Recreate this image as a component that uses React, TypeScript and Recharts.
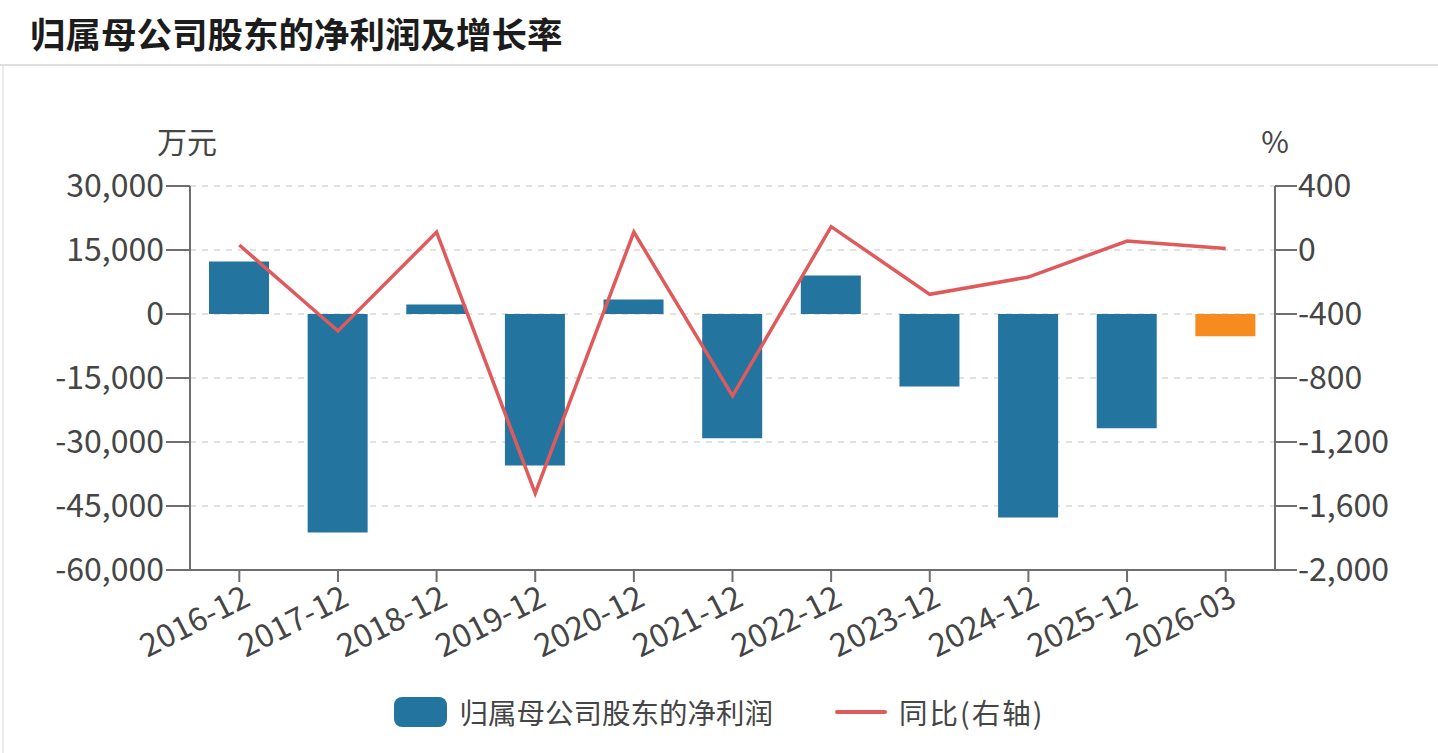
import {
  Bar,
  CartesianGrid,
  Cell,
  ComposedChart,
  Line,
  XAxis,
  YAxis,
} from 'recharts';

const periods = [
  '2016-12',
  '2017-12',
  '2018-12',
  '2019-12',
  '2020-12',
  '2021-12',
  '2022-12',
  '2023-12',
  '2024-12',
  '2025-12',
  '2026-03',
];

// 归属母公司股东的净利润 (万元)
const netProfit = [12300, -51200, 2200, -35500, 3400, -29100, 9000, -17000, -47700, -26800, -5200];

// 同比 (%)
const yoyGrowth = [31, -506, 112, -1521, 112, -912, 146, -277, -169, 56, 10];

const leftTicks = [-60000, -45000, -30000, -15000, 0, 15000, 30000];
const rightTicks = [-2000, -1600, -1200, -800, -400, 0, 400];

const BAR_COLOR = '#23749f';
const LAST_BAR_COLOR = '#f68b1f';
const LINE_COLOR = '#e05a5c';
const AXIS_COLOR = '#6e6e6e';
const TEXT_COLOR = '#454545';
const FONT = '"Noto Sans CJK SC", "Noto Sans", sans-serif';

const chartData = periods.map((p, i) => ({
  name: p,
  profit: netProfit[i],
  yoy: yoyGrowth[i],
}));

const fmt = (v: number) => v.toLocaleString('en-US');

function PeriodTick({ x, y, payload }: any) {
  return (
    <g transform={`translate(${x},${y})`}>
      <text
        x={2}
        y={0}
        dy={24}
        textAnchor="end"
        fill={TEXT_COLOR}
        fontSize={32}
        fontFamily={FONT}
        transform="rotate(-27)"
      >
        {payload.value}
      </text>
    </g>
  );
}

export default function App() {
  return (
    <div
      style={{
        position: 'absolute',
        left: 0,
        top: 0,
        width: 1438,
        height: 753,
        background: '#ffffff',
        fontFamily: FONT,
        overflow: 'hidden',
      }}
    >
      <div
        style={{
          position: 'absolute',
          left: 30,
          top: 10,
          fontSize: 35.5,
          fontWeight: 700,
          color: '#1c1c1c',
          lineHeight: '46px',
        }}
      >
        归属母公司股东的净利润及增长率
      </div>
      <div
        style={{
          position: 'absolute',
          left: 0,
          top: 64,
          width: 1438,
          height: 2,
          background: '#dedede',
        }}
      />
      <div
        style={{
          position: 'absolute',
          left: 2,
          top: 66,
          width: 2,
          height: 687,
          background: '#ececec',
        }}
      />
      <div
        style={{
          position: 'absolute',
          left: 147,
          top: 120,
          width: 80,
          textAlign: 'center',
          fontSize: 30,
          color: TEXT_COLOR,
          lineHeight: '40px',
        }}
      >
        万元
      </div>
      <div
        style={{
          position: 'absolute',
          left: 1245,
          top: 120,
          width: 60,
          textAlign: 'center',
          fontSize: 30,
          color: TEXT_COLOR,
          lineHeight: '40px',
        }}
      >
        %
      </div>

      <div style={{ position: 'absolute', left: 0, top: 0 }}>
        <ComposedChart
          width={1438}
          height={753}
          data={chartData}
          margin={{ top: 186, right: 63, left: 90, bottom: 83 }}
        >
          <CartesianGrid
            yAxisId="left"
            vertical={false}
            stroke="#d9d9d9"
            strokeDasharray="6 6"
            strokeWidth={1.5}
          />
          <XAxis
            dataKey="name"
            height={100}
            interval={0}
            tick={<PeriodTick />}
            tickSize={12}
            tickLine={{ stroke: AXIS_COLOR, strokeWidth: 2 }}
            axisLine={{ stroke: AXIS_COLOR, strokeWidth: 2 }}
          />
          <YAxis
            yAxisId="left"
            width={100}
            domain={[-60000, 30000]}
            ticks={leftTicks}
            interval={0}
            tickFormatter={fmt}
            tickSize={24}
            tickMargin={2}
            tick={{ fill: TEXT_COLOR, fontSize: 32, fontFamily: FONT }}
            tickLine={{ stroke: AXIS_COLOR, strokeWidth: 2 }}
            axisLine={{ stroke: AXIS_COLOR, strokeWidth: 2 }}
          />
          <YAxis
            yAxisId="right"
            orientation="right"
            width={100}
            domain={[-2000, 400]}
            ticks={rightTicks}
            interval={0}
            tickFormatter={fmt}
            tickSize={22}
            tickMargin={1}
            tick={{ fill: TEXT_COLOR, fontSize: 32, fontFamily: FONT }}
            tickLine={{ stroke: AXIS_COLOR, strokeWidth: 2 }}
            axisLine={{ stroke: AXIS_COLOR, strokeWidth: 2 }}
          />
          <Bar
            yAxisId="left"
            dataKey="profit"
            barSize={60}
            fill={BAR_COLOR}
            isAnimationActive={false}
          >
            {chartData.map((d, i) => (
              <Cell
                key={d.name}
                fill={i === chartData.length - 1 ? LAST_BAR_COLOR : BAR_COLOR}
              />
            ))}
          </Bar>
          <Line
            yAxisId="right"
            dataKey="yoy"
            type="linear"
            stroke={LINE_COLOR}
            strokeWidth={3.5}
            dot={false}
            activeDot={false}
            isAnimationActive={false}
          />
        </ComposedChart>
      </div>

      <div
        style={{
          position: 'absolute',
          left: 0,
          top: 690,
          width: 1438,
          display: 'flex',
          justifyContent: 'center',
          alignItems: 'center',
          fontSize: 28.5,
          color: TEXT_COLOR,
          lineHeight: '44px',
        }}
      >
        <span
          style={{
            display: 'inline-block',
            width: 53,
            height: 30,
            borderRadius: 8,
            background: BAR_COLOR,
            marginRight: 13,
          }}
        />
        <span>归属母公司股东的净利润</span>
        <span
          style={{
            display: 'inline-block',
            width: 52,
            height: 4,
            borderRadius: 2,
            background: LINE_COLOR,
            marginLeft: 62,
            marginRight: 12,
          }}
        />
        <span style={{ letterSpacing: 2 }}>同比(右轴)</span>
      </div>
    </div>
  );
}
